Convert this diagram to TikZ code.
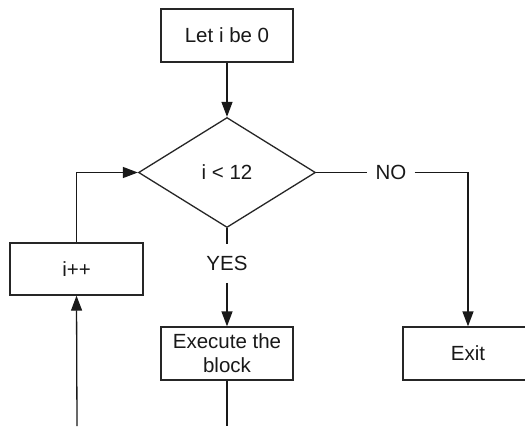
\documentclass[tikz,border=0pt]{standalone}
\usepackage{fontspec}
\setmainfont{Liberation Sans}
\usetikzlibrary{shapes.geometric,arrows.meta}
\begin{document}
\begin{tikzpicture}[x=1pt,y=-1pt,
  every node/.style={font=\fontsize{20.5}{24}\selectfont, text=black!90},
  box/.style={draw=black!85, line width=1.3pt, rectangle, minimum width=132pt, minimum height=53pt, inner sep=2pt, align=center},
  decision/.style={draw=black!85, line width=1.3pt, diamond, minimum width=177pt, minimum height=110pt, inner sep=0pt},
  lbl/.style={inner xsep=8pt, inner ysep=12pt},
  conn/.style={draw=black!90, line width=1.3pt},
  arr/.style={conn, -{Triangle[length=15pt,width=11pt]}}
]
\path[use as bounding box, clip] (0,0) rectangle (525,426);
\fill[white] (0,0) rectangle (525,426);
\node[box] (init) at (227,35.5) {Let i be 0};
\node[decision] (dec) at (227,172.5) {i < 12};
\node[box, minimum width=133pt, minimum height=52pt] (inc) at (76.5,269) {i++};
\node[box] (exec) at (227,353.5) {Execute the\\block};
\node[box, minimum width=130pt] (exit) at (468,353.5) {Exit};
\node[lbl] (yes) at (227,263.5) {YES};
\node[lbl] (no) at (391,172.5) {NO};
\coordinate (bl) at (77,426);
\coordinate (bm) at (227,426);
\draw[arr] (init.south) -- (dec.north);
\draw[conn] (dec.south) -- (yes.north);
\draw[arr] (yes.south) -- (exec.north);
\draw[conn] (dec.east) -- (no.west);
\draw[arr] (no.east) -| (exit.north);
\draw[arr] (bl) -- (inc.south);
\draw[arr] (inc.north) |- (dec.west);
\draw[conn] (exec.south) -- (bm);
\end{tikzpicture}
\end{document}
